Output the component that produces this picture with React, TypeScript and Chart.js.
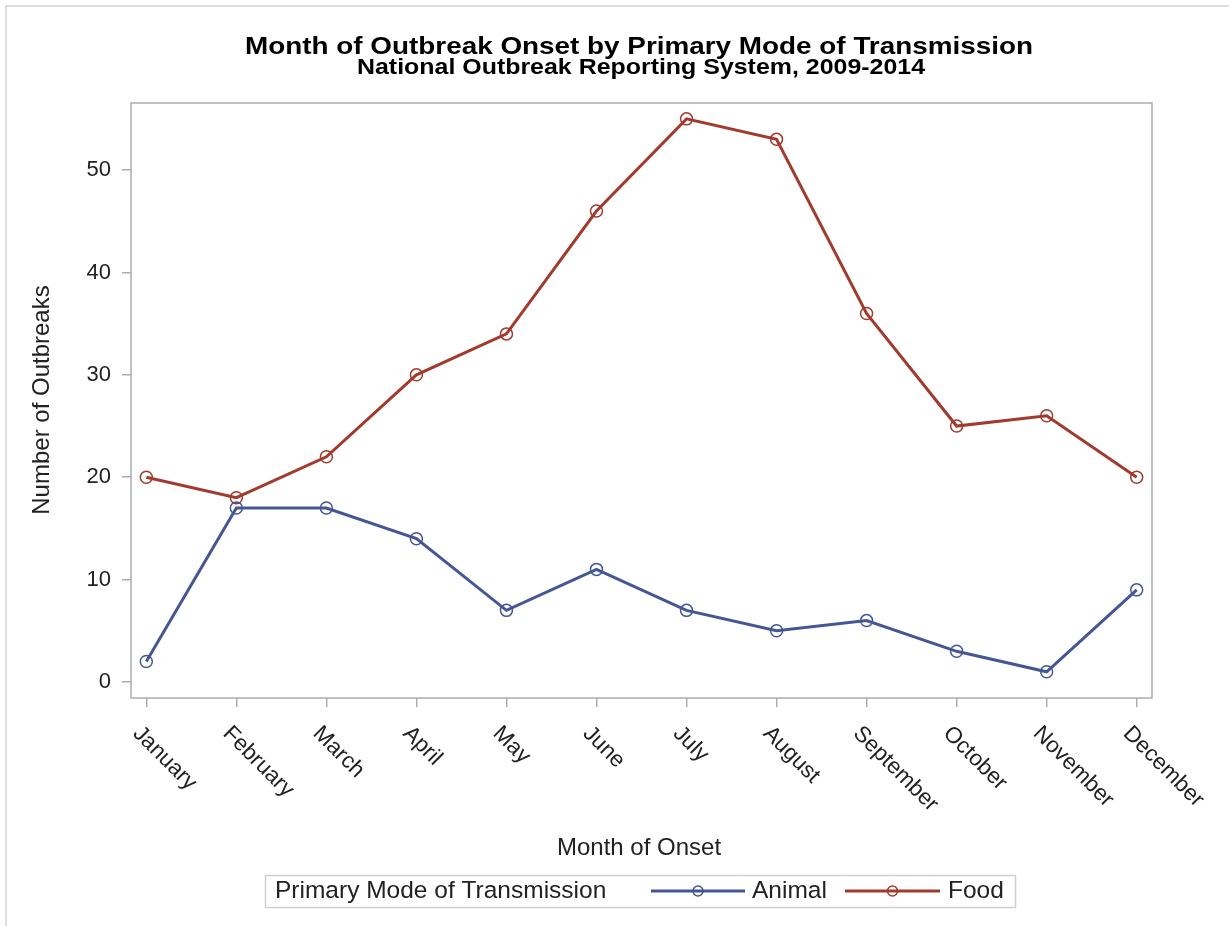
import React, { useEffect, useRef } from 'react';
import { Chart, registerables } from 'chart.js';

Chart.register(...registerables);

const months = ['January', 'February', 'March', 'April', 'May', 'June', 'July', 'August', 'September', 'October', 'November', 'December'];
const animal = [2, 17, 17, 14, 7, 11, 7, 5, 6, 3, 1, 9];
const food = [20, 18, 22, 30, 34, 46, 55, 53, 36, 25, 26, 20];
const yTicks = [0, 10, 20, 30, 40, 50];
const seriesNames = ['Animal', 'Food'];
const titleText = 'Month of Outbreak Onset by Primary Mode of Transmission';
const subtitleText = 'National Outbreak Reporting System, 2009-2014';
const xTitle = 'Month of Onset';
const yTitle = 'Number of Outbreaks';
const legendTitle = 'Primary Mode of Transmission';

const BLUE = '#445694';
const RED = '#A23A2E';
const AXIS = '#A9ADB2';
const TEXT = '#222222';
const FONT = '"Liberation Sans", Arial, Helvetica, sans-serif';

function stretchedText(ctx: any, text: string, cx: number, baseline: number, font: string, width: number) {
  ctx.save();
  ctx.font = font;
  ctx.textAlign = 'center';
  ctx.textBaseline = 'alphabetic';
  const w = ctx.measureText(text).width;
  const sx = width / w;
  ctx.translate(cx, baseline);
  ctx.scale(sx, 1);
  ctx.fillText(text, 0, 0);
  ctx.restore();
}

const decorPlugin = {
  id: 'decor',
  beforeDatasetsDraw(chart: any) {
    const { ctx, chartArea } = chart;
    ctx.save();
    ctx.strokeStyle = AXIS;
    ctx.lineWidth = 1.5;
    ctx.strokeRect(chartArea.left, chartArea.top, chartArea.right - chartArea.left, chartArea.bottom - chartArea.top);
    ctx.restore();
  },
  afterDraw(chart: any) {
    const { ctx } = chart;
    const xs = chart.scales.x;
    ctx.save();
    // outer frame
    ctx.strokeStyle = '#D4D4D4';
    ctx.lineWidth = 1.5;
    ctx.beginPath();
    ctx.moveTo(6, 926);
    ctx.lineTo(6, 6);
    ctx.lineTo(1229, 6);
    ctx.stroke();

    // titles
    ctx.fillStyle = '#000';
    stretchedText(ctx, titleText, 639, 54, `bold 24.5px ${FONT}`, 788);
    stretchedText(ctx, subtitleText, 641, 74, `bold 22px ${FONT}`, 568);

    // x tick labels rotated
    ctx.fillStyle = TEXT;
    ctx.font = `22.5px ${FONT}`;
    ctx.textAlign = 'left';
    ctx.textBaseline = 'middle';
    months.forEach((m, i) => {
      const x = xs.getPixelForValue(i);
      ctx.save();
      ctx.translate(x - 10, 730);
      ctx.rotate(Math.PI / 4);
      ctx.fillText(m, 0, 0);
      ctx.restore();
    });

    // axis titles
    ctx.font = `24px ${FONT}`;
    ctx.textAlign = 'center';
    ctx.fillText(xTitle, 639, 848);
    ctx.save();
    ctx.translate(42, 400);
    ctx.rotate(-Math.PI / 2);
    ctx.fillText(yTitle, 0, 0);
    ctx.restore();

    // legend
    ctx.strokeStyle = '#D0D0D0';
    ctx.lineWidth = 1.5;
    ctx.strokeRect(265.5, 875.5, 750, 32);
    ctx.font = `24.5px ${FONT}`;
    ctx.textAlign = 'left';
    ctx.fillStyle = TEXT;
    ctx.fillText(legendTitle, 275, 891);
    const items = [
      { name: seriesNames[0], color: BLUE, x0: 651, x1: 745, tx: 752 },
      { name: seriesNames[1], color: RED, x0: 845, x1: 940, tx: 948 },
    ];
    items.forEach((it) => {
      ctx.strokeStyle = it.color;
      ctx.lineWidth = 3;
      ctx.beginPath();
      ctx.moveTo(it.x0, 891);
      ctx.lineTo(it.x1, 891);
      ctx.stroke();
      ctx.lineWidth = 1.5;
      ctx.beginPath();
      ctx.arc((it.x0 + it.x1) / 2, 891, 5, 0, Math.PI * 2);
      ctx.stroke();
      ctx.fillStyle = TEXT;
      ctx.fillText(it.name, it.tx, 891);
    });
    ctx.restore();
  },
};

export default function App() {
  const ref = useRef<HTMLCanvasElement>(null);
  useEffect(() => {
    if (!ref.current) return;
    const mk = (vals: number[]) => vals.map((v, i) => ({ x: i, y: v }));
    const chart = new Chart(ref.current, {
      type: 'line',
      data: {
        datasets: [
          {
            label: seriesNames[0],
            data: mk(animal),
            borderColor: BLUE,
            borderWidth: 3,
            pointRadius: 6,
            pointBorderWidth: 1.5,
            pointBorderColor: BLUE,
            pointBackgroundColor: 'rgba(0,0,0,0)',
            tension: 0,
          },
          {
            label: seriesNames[1],
            data: mk(food),
            borderColor: RED,
            borderWidth: 3,
            pointRadius: 6,
            pointBorderWidth: 1.5,
            pointBorderColor: RED,
            pointBackgroundColor: 'rgba(0,0,0,0)',
            tension: 0,
          },
        ],
      },
      options: {
        animation: false,
        responsive: true,
        maintainAspectRatio: false,
        layout: { padding: { top: 103, right: 77, left: 0, bottom: 0 } },
        plugins: { legend: { display: false }, tooltip: { enabled: false }, title: { display: false } },
        scales: {
          x: {
            type: 'linear',
            min: -0.17,
            max: 11.17,
            afterBuildTicks: (s: any) => {
              s.ticks = months.map((_, i) => ({ value: i }));
            },
            afterFit: (s: any) => {
              s.height = 228;
            },
            ticks: { display: false },
            grid: { drawOnChartArea: false, drawTicks: true, tickLength: 9, color: AXIS, lineWidth: 1.5 },
            border: { display: false },
          },
          y: {
            type: 'linear',
            min: -1.56,
            max: 56.55,
            afterBuildTicks: (s: any) => {
              s.ticks = yTicks.map((v) => ({ value: v }));
            },
            afterFit: (s: any) => {
              s.width = 131;
            },
            ticks: { font: { family: FONT, size: 22 }, color: TEXT, padding: 11 },
            grid: { drawOnChartArea: false, drawTicks: true, tickLength: 9, color: AXIS, lineWidth: 1.5 },
            border: { display: false },
          },
        },
      },
      plugins: [decorPlugin],
    });
    return () => chart.destroy();
  }, []);
  return (
    <div style={{ position: 'absolute', left: 0, top: 0, width: 1229, height: 926, background: '#fff' }}>
      <canvas ref={ref} />
    </div>
  );
}
